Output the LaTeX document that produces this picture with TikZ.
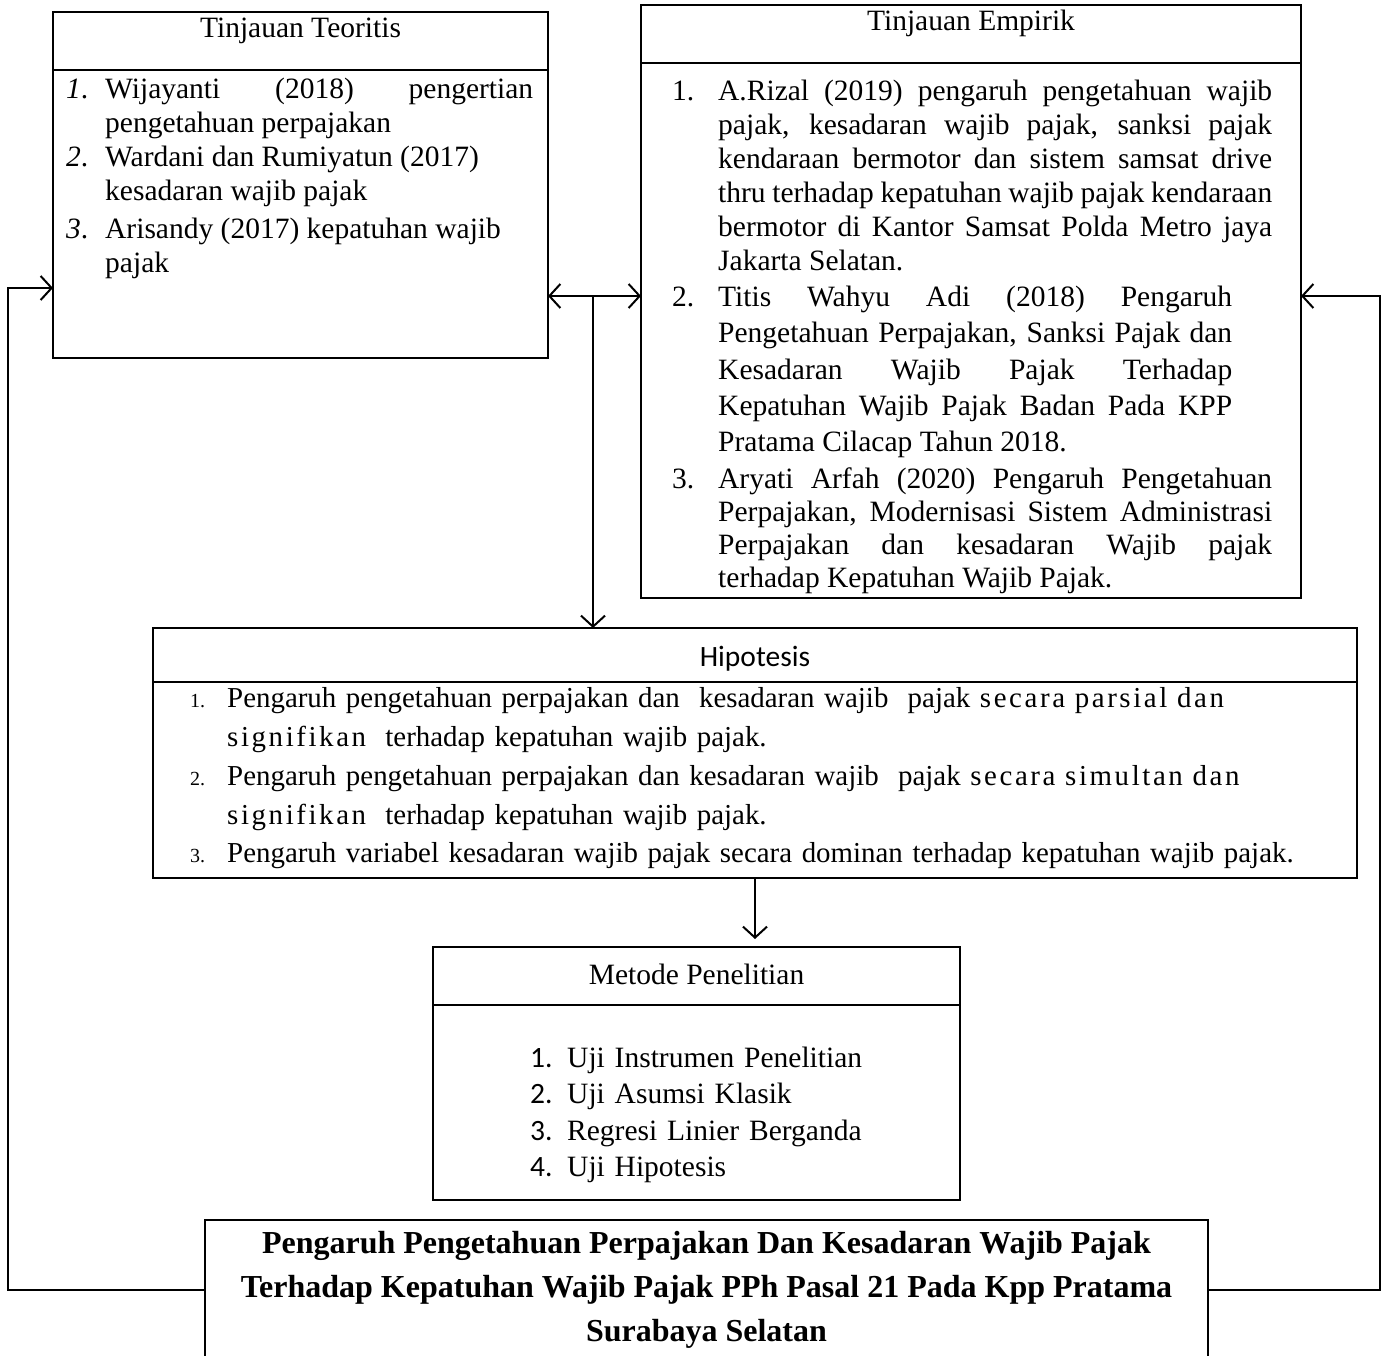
\documentclass[tikz,border=0pt]{standalone}
\usepackage{fontspec}
\setmainfont{Liberation Serif}
\newfontfamily\calibri{Carlito}
\usetikzlibrary{arrows.meta,positioning}

\hyphenpenalty=10000
\exhyphenpenalty=10000
\tolerance=2000

% nomor butir dengan indentasi gantung
\newcommand{\butir}[2][40pt]{\par\hangindent=#1\hangafter=1\noindent\makebox[#1][l]{#2}}
\newcommand{\putus}{\hfil\break}
\newcommand{\renggang}[1]{{\addfontfeatures{LetterSpace=9}#1}}

\tikzset{%
  >={Straight Barb[length=11pt,width=24pt]},
  % kotak judul dan isi
   headbox/.style = {draw, line width=2pt, outer sep=0pt, inner sep=0pt},
  framebox/.style = {draw, line width=2pt, outer sep=0pt, inner sep=0pt},
  listtext/.style = {inner sep=0pt, anchor=north west},
      link/.style = {line width=2pt},
}

\begin{document}
\begin{tikzpicture}[x=1pt, y=-1pt, font=\fontsize{29.5}{34}\selectfont]
  \useasboundingbox (0,0) rectangle (1389,1356);

  % Tinjauan Teoritis
  \node (teoriHead) [headbox, anchor=north west, minimum width=495pt,
        text height=26pt, text depth=32pt] at (53,12) {Tinjauan Teoritis};
  \node (teoriBody) [framebox, minimum width=495pt, minimum height=288pt,
        below=0pt of teoriHead] {};
  \node (teoriList) [listtext, text width=467pt, align=justify] at (66,64) {
    \butir[39pt]{\textit{1}.}Wijayanti (2018) pengertian\linebreak pengetahuan perpajakan
    \butir[39pt]{\textit{2}.}Wardani dan Rumiyatun (2017)\putus kesadaran wajib pajak\par
    \vspace{4pt}
    \butir[39pt]{\textit{3}.}Arisandy (2017) kepatuhan wajib\putus pajak\par};

  % Tinjauan Empirik
  \node (empiriHead) [headbox, anchor=north west, minimum width=660pt,
        text height=26pt, text depth=32pt] at (641,5) {Tinjauan Empirik};
  \node (empiriBody) [framebox, minimum width=660pt, minimum height=535pt,
        below=0pt of empiriHead] {};
  \node (empiriList) [listtext, text width=600pt, align=justify] at (672,66) {
    \butir[46pt]{1.}A.Rizal (2019) pengaruh pengetahuan wajib\linebreak pajak, kesadaran wajib pajak, sanksi pajak\linebreak kendaraan bermotor dan sistem samsat drive\linebreak thru terhadap kepatuhan wajib pajak kendaraan\linebreak bermotor di Kantor Samsat Polda Metro jaya\linebreak Jakarta Selatan.\par
    {\fontsize{29.5}{36.3}\selectfont\rightskip=40pt \butir[46pt]{2.}Titis Wahyu Adi (2018) Pengaruh\linebreak Pengetahuan Perpajakan, Sanksi Pajak dan\linebreak Kesadaran Wajib Pajak Terhadap\linebreak Kepatuhan Wajib Pajak Badan Pada KPP\linebreak Pratama Cilacap Tahun 2018.\par}
    \vspace{4pt}
    {\fontsize{29.5}{33}\selectfont \butir[46pt]{3.}Aryati Arfah (2020) Pengaruh Pengetahuan\linebreak Perpajakan, Modernisasi Sistem Administrasi\linebreak Perpajakan dan kesadaran Wajib pajak\linebreak terhadap Kepatuhan Wajib Pajak.\par}};

  % Hipotesis
  \node (hipoHead) [headbox, anchor=north west, minimum width=1204pt,
        text height=38pt, text depth=16pt,
        font=\calibri\fontsize{29.5}{34}\selectfont] at (153,628) {Hipotesis};
  \node (hipoBody) [framebox, minimum width=1204pt, minimum height=196pt,
        below=0pt of hipoHead] {};
  \node (hipoList) [listtext, text width=1150pt,
        font=\fontsize{28.9}{38.7}\selectfont] at (190,669) {
    \butir[37pt]{\fontsize{20}{20}\selectfont 1.}Pengaruh pengetahuan perpajakan dan\ \ kesadaran wajib\ \ pajak \renggang{secara parsial dan}\putus \renggang{signifikan}\ \ terhadap kepatuhan wajib pajak.
    \butir[37pt]{\fontsize{20}{20}\selectfont 2.}Pengaruh pengetahuan perpajakan dan kesadaran wajib\ \ pajak \renggang{secara simultan dan}\putus \renggang{signifikan}\ \ terhadap kepatuhan wajib pajak.
    \butir[37pt]{\fontsize{20}{20}\selectfont 3.}Pengaruh variabel kesadaran wajib pajak secara dominan terhadap kepatuhan wajib pajak.\par};

  % Metode Penelitian
  \node (metodeHead) [headbox, anchor=north west, minimum width=527pt,
        text height=37pt, text depth=21pt] at (433,947) {Metode Penelitian};
  \node (metodeBody) [framebox, minimum width=527pt, minimum height=195pt,
        below=0pt of metodeHead] {};
  \node (metodeList) [listtext, text width=400pt,
        font=\fontsize{29.5}{36.3}\selectfont] at (530,1031) {
    \butir[37pt]{\calibri 1.}Uji Instrumen Penelitian
    \butir[37pt]{\calibri 2.}Uji Asumsi Klasik
    \butir[37pt]{\calibri 3.}Regresi Linier Berganda
    \butir[37pt]{\calibri 4.}Uji Hipotesis\par};

  % Judul penelitian
  \node (judul) [framebox, anchor=north west, minimum width=1003pt,
        minimum height=140pt, align=center,
        font=\bfseries\fontsize{32}{44}\selectfont] at (205,1220)
        {Pengaruh Pengetahuan Perpajakan Dan Kesadaran Wajib Pajak\\
         Terhadap Kepatuhan Wajib Pajak PPh Pasal 21 Pada Kpp Pratama\\
         Surabaya Selatan};

  % Garis penghubung
  \coordinate (simpang) at (593,296);
  \coordinate (belokKiri) at (8,288);
  \coordinate (belokKanan) at (1380,296);
  \draw[link, <->] (teoriBody.east |- simpang) -- (empiriBody.west |- simpang);
  \draw[link, ->] (simpang) -- (simpang |- hipoHead.north);
  \draw[link, ->] (hipoBody.south) -- ([yshift=8pt]hipoBody.south |- metodeHead.north);
  \draw[link, ->] (judul.west) -| (belokKiri) -- (teoriBody.west |- belokKiri);
  \draw[link, ->] (judul.east) -| (belokKanan) -- (empiriBody.east |- belokKanan);
\end{tikzpicture}
\end{document}
